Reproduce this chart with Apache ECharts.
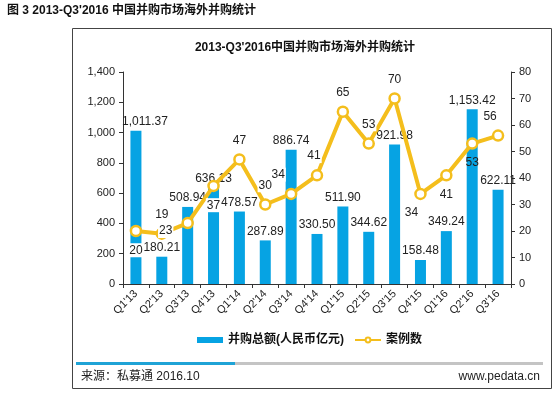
<!DOCTYPE html>
<html>
<head>
<meta charset="utf-8">
<script src="https://cdn.jsdelivr.net/npm/echarts@6/dist/echarts.min.js"></script>
<style>
  html, body { margin: 0; padding: 0; background: #fff; }
  #container { width: 560px; height: 397px; }
</style>
</head>
<body>
<div id="container"></div>
<script>
// quarters on the x axis
const quarters = ["Q1'13", "Q2'13", "Q3'13", "Q4'13", "Q1'14", "Q2'14", "Q3'14", "Q4'14",
    "Q1'15", "Q2'15", "Q3'15", "Q4'15", "Q1'16", "Q2'16", "Q3'16"];
// deal value, 100M RMB
const amounts = [1011.37, 180.21, 508.94, 636.13, 478.57, 287.89, 886.74, 330.50,
    511.90, 344.62, 921.98, 158.48, 349.24, 1153.42, 622.11];
// number of cases
const cases = [20, 19, 23, 37, 47, 30, 34, 41, 65, 53, 70, 34, 41, 53, 56];

// where each case label sits, roughly like the excel original
const caseLabelPos = ['bottom', 'top', 'left', 'bottom', 'top', 'top', 'top', 'top',
    'top', 'top', 'top', 'bottom', 'bottom', 'bottom', 'top'];
const caseLabelShift = [[0, 0], [0, 0], [-2, 8], [0, 0], [0, 0], [0, 0], [-13, 0], [-3, 0],
    [0, 0], [0, 0], [0, 0], [-9, 0], [0, 0], [0, 0], [-8, 0]];

const font = '"Liberation Sans", Arial, "Noto Sans CJK SC", sans-serif';
const blue = '#06A3E3';
const gold = '#F4BE1C';

const fmt = v => v.toLocaleString('en-US', { minimumFractionDigits: 2, maximumFractionDigits: 2 });

var myChart = echarts.init(document.getElementById('container'), null, { renderer: 'canvas' });

myChart.setOption({
    animation: false,
    textStyle: { fontFamily: font },
    grid: { left: 123, right: 49, top: 72, bottom: 113 },
    graphic: [
        { type: 'text', left: 7, top: 5,
          style: { text: "图 3 2013-Q3'2016 中国并购市场海外并购统计", font: 'bold 12px ' + font, fill: '#111' } },
        { type: 'rect', shape: { x: 72.5, y: 28.5, width: 479, height: 360 },
          style: { fill: 'none', stroke: '#444', lineWidth: 1 } },
        { type: 'text', x: 305, y: 48,
          style: { text: "2013-Q3'2016中国并购市场海外并购统计", font: 'bold 12px ' + font, fill: '#111',
                   align: 'center', verticalAlign: 'middle' } },
        { type: 'rect', shape: { x: 235, y: 362, width: 308, height: 3 }, style: { fill: '#C4C4C4' } },
        { type: 'rect', shape: { x: 76, y: 362, width: 159, height: 3 }, style: { fill: '#1FA3D6' } },
        { type: 'text', x: 81, y: 377,
          style: { text: '来源：私募通 2016.10', font: '12px ' + font, fill: '#222', verticalAlign: 'middle' } },
        { type: 'text', x: 540, y: 377,
          style: { text: 'www.pedata.cn', font: '12px ' + font, fill: '#222', align: 'right', verticalAlign: 'middle' } }
    ],
    legend: {
        left: 192, top: 329,
        itemWidth: 26, itemHeight: 6, itemGap: 10,
        textStyle: { fontSize: 12, fontWeight: 'bold', color: '#111', fontFamily: font },
        data: [
            { name: '并购总额(人民币亿元)', icon: 'rect' },
            { name: '案例数' }
        ]
    },
    xAxis: {
        type: 'category',
        data: quarters,
        axisLine: { lineStyle: { color: '#333' } },
        axisTick: { show: true, alignWithLabel: false, length: 4, lineStyle: { color: '#333' } },
        axisLabel: { rotate: 45, fontSize: 11, color: '#222', margin: 8, interval: 0 }
    },
    yAxis: [
        {
            type: 'value', min: 0, max: 1400, interval: 200,
            splitLine: { show: false },
            axisLine: { show: true, lineStyle: { color: '#333' } },
            axisTick: { show: true, length: 4, lineStyle: { color: '#333' } },
            axisLabel: { fontSize: 11, color: '#222', margin: 8,
                         formatter: v => v.toLocaleString('en-US') }
        },
        {
            type: 'value', min: 0, max: 80, interval: 10,
            splitLine: { show: false },
            axisLine: { show: true, lineStyle: { color: '#333' } },
            axisTick: { show: true, length: 4, lineStyle: { color: '#333' } },
            axisLabel: { fontSize: 11, color: '#222', margin: 8 }
        }
    ],
    series: [
        {
            name: '并购总额(人民币亿元)',
            type: 'bar',
            data: amounts.map((v, i) => ({
                value: v,
                label: { offset: i === 0 ? [9, 0] : [0, 0] }
            })),
            barWidth: 11,
            itemStyle: { color: blue },
            label: { show: true, position: 'top', distance: 3, fontSize: 12, color: '#222',
                     formatter: p => fmt(p.value) },
            z: 2
        },
        {
            name: '案例数',
            type: 'line',
            yAxisIndex: 1,
            data: cases.map((v, i) => ({
                value: v,
                label: {
                    position: caseLabelPos[i],
                    offset: caseLabelShift[i],
                    backgroundColor: i === 13 ? 'transparent' : '#fff'
                }
            })),
            symbol: 'circle',
            symbolSize: 10,
            lineStyle: { color: gold, width: 4 },
            itemStyle: { color: '#fff', borderColor: gold, borderWidth: 2.5 },
            label: { show: true, fontSize: 12, color: '#222', distance: 6, padding: [1, 1] },
            z: 3
        }
    ]
});
</script>
</body>
</html>
